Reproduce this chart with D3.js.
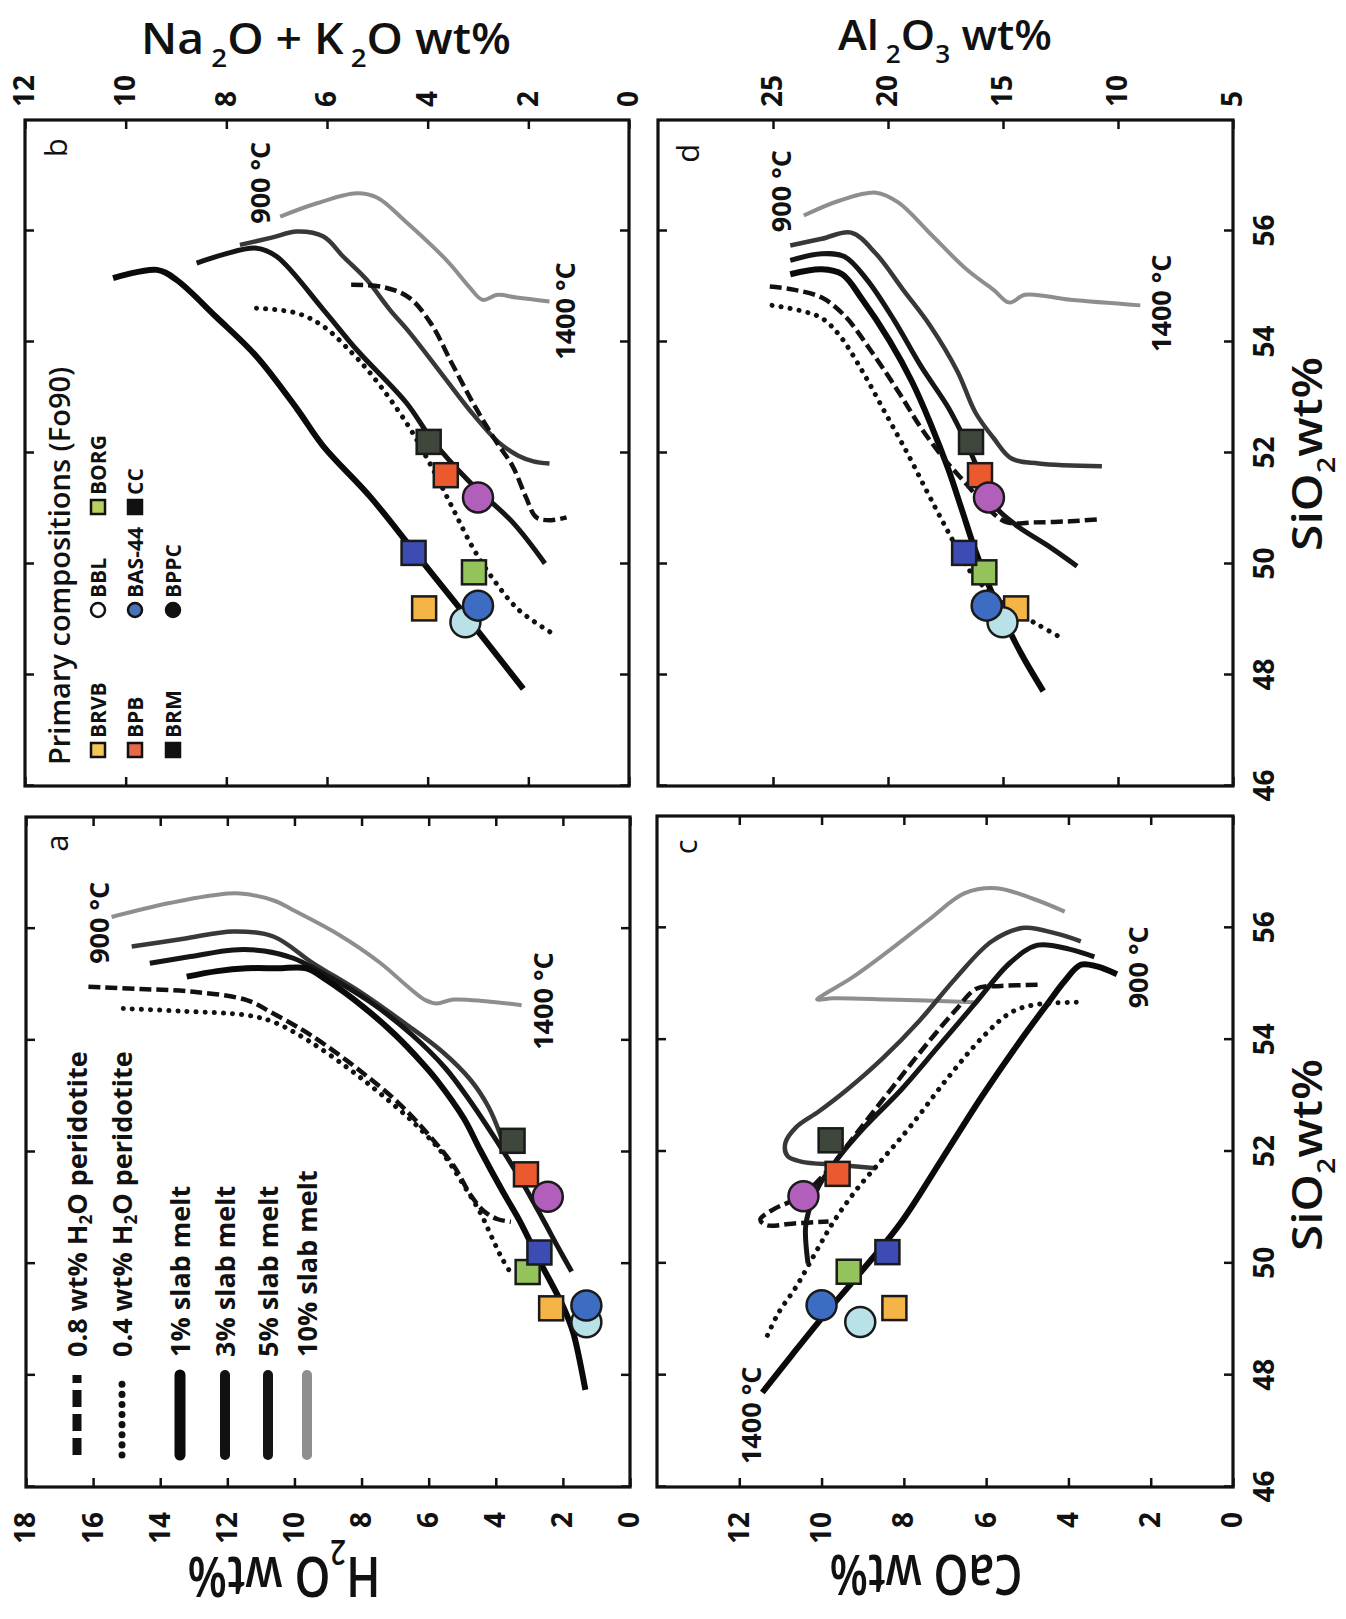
<!DOCTYPE html>
<html>
<head>
<meta charset="utf-8">
<script src="https://cdn.jsdelivr.net/npm/d3@7"></script>
<style>
  body { margin: 0; background: #fff; }
  text { font-family: "Open Sans", sans-serif; font-weight: 700; fill: #111; }
  .tick text { font-size: 28px; }
  .tick line { stroke: #111; stroke-width: 2.5; }
</style>
</head>
<body>
<svg id="fig"></svg>
<script>
// ---- tick values
const sioTicks = [46, 48, 50, 52, 54, 56];
const h2oTicks = [0, 2, 4, 6, 8, 10, 12, 14, 16, 18];
const alkTicks = [0, 2, 4, 6, 8, 10, 12];
const caoTicks = [0, 2, 4, 6, 8, 10, 12];
const alTicks  = [5, 10, 15, 20, 25];

// ---- primary compositions (Fo90)
const comps  = ["BRVB", "BBL", "BAS-44", "BORG", "BRM", "BPB", "CC", "BPPC"];
const shapes = ["square", "circle", "circle", "square", "square", "square", "square", "circle"];
const sio2   = [49.2, 48.95, 49.25, 49.85, 50.2, 51.6, 52.2, 51.2];
const h2o    = [2.35, 1.3, 1.3, 3.05, 2.7, 3.1, 3.5, 2.45];
const alk    = [4.07, 3.25, 3.0, 3.08, 4.28, 3.64, 3.98, 3.0];
const cao    = [8.23, 9.06, 10.0, 9.34, 8.4, 9.61, 9.78, 10.44];
const al2o3  = [14.43, 15.02, 15.71, 15.81, 16.69, 16.0, 16.39, 15.61];

// ---- model melt paths [SiO2, oxide]
// a: H2O
const a_dash = [[54.96,16.14],[54.92,14.6],[54.87,13.01],[54.72,11.42],[54.48,10.63],[54.2,9.8],[53.93,9.11],[53.41,7.95],[52.89,6.92],[52.32,6.02],[51.75,5.25],[51.22,4.74],[50.94,4.35],[50.8,3.96],[50.75,3.55]];
const a_dot  = [[54.57,15.1],[54.52,13.3],[54.45,11.42],[54.33,10.63],[54.0,9.6],[53.5,8.4],[53.05,7.45],[52.5,6.4],[51.95,5.55],[51.4,4.95],[50.9,4.45],[50.45,4.1],[50.1,3.82],[49.86,3.58]];
const a_s1   = [[55.14,13.21],[55.24,12.3],[55.29,11.42],[55.29,10.5],[55.29,9.64],[55.08,9.04],[54.6,7.95],[54.1,7.0],[53.6,6.2],[53.29,5.76],[52.6,4.95],[52.04,4.47],[51.3,3.8],[50.78,3.3],[50.03,2.68],[49.23,1.99],[48.76,1.69],[47.74,1.33]];
const a_s3   = [[55.38,14.31],[55.5,13.1],[55.62,11.82],[55.6,10.9],[55.47,10.03],[55.25,9.3],[54.69,7.75],[54.1,6.5],[53.5,5.5],[52.9,4.75],[52.27,4.05],[51.6,3.35],[50.8,2.6],[50.3,2.15],[49.86,1.74]];
const a_s5   = [[55.68,14.85],[55.82,13.3],[55.95,11.82],[55.86,10.63],[55.38,9.44],[54.85,8.0],[54.3,6.7],[53.8,5.6],[53.29,4.75],[52.81,4.22],[52.33,3.88],[52.0,3.72]];
const a_s10  = [[56.21,15.45],[56.45,13.8],[56.6,12.4],[56.63,11.62],[56.5,10.6],[56.33,10.03],[55.9,8.7],[55.39,7.45],[54.95,6.6],[54.72,6.1],[54.66,5.76],[54.73,5.27],[54.7,4.3],[54.63,3.23]];
// b: Na2O + K2O
const b_dash = [[55.03,5.52],[54.99,4.88],[54.8,4.37],[54.34,3.94],[53.6,3.51],[52.87,3.08],[52.22,2.65],[51.76,2.31],[51.21,2.05],[50.84,1.84],[50.79,1.54],[50.84,1.24]];
const b_dot  = [[54.61,7.4],[54.52,6.6],[54.28,6.07],[53.8,5.5],[53.37,5.08],[52.54,4.42],[51.8,3.95],[51.0,3.5],[50.29,3.1],[49.73,2.7],[49.18,2.2],[48.76,1.54]];
const b_s1   = [[55.15,10.25],[55.3,9.38],[55.12,8.99],[54.45,8.2],[53.74,7.4],[52.8,6.6],[52.13,6.08],[51.21,5.14],[50.24,4.28],[49.18,3.34],[47.75,2.1]];
const b_s3   = [[55.42,8.59],[55.58,8.05],[55.69,7.4],[55.54,7.0],[54.58,6.07],[53.86,5.41],[52.9,4.42],[52.22,3.9],[51.48,3.17],[50.75,2.31],[50.01,1.67]];
const b_s5   = [[55.75,7.73],[55.88,7.1],[55.99,6.6],[55.9,6.07],[55.54,5.68],[55.12,5.21],[54.58,4.75],[54.16,4.35],[53.4,3.7],[52.7,3.1],[52.2,2.6],[51.95,2.2],[51.85,1.9],[51.81,1.58]];
const b_s10  = [[56.26,6.93],[56.5,6.2],[56.68,5.41],[56.6,5.0],[56.18,4.45],[55.45,3.6],[54.99,3.17],[54.76,2.91],[54.85,2.61],[54.8,2.23],[54.73,1.58]];
// c: CaO
const c_dash = [[54.98,4.75],[54.96,5.64],[54.91,6.24],[54.53,6.74],[53.96,7.4],[53.34,8.07],[52.72,8.73],[52.2,9.28],[51.68,9.83],[51.2,10.5],[50.97,11.16],[50.78,11.49],[50.68,11.33],[50.71,10.72],[50.75,9.83]];
const c_dot  = [[54.67,3.81],[54.62,4.86],[54.48,5.41],[54.05,6.08],[53.29,6.96],[52.44,7.85],[51.87,8.51],[51.3,9.17],[50.73,9.72],[50.16,10.17],[49.59,10.61],[49.11,11.05],[48.69,11.33]];
const c_s1   = [[47.69,11.44],[48.36,10.72],[49.07,9.94],[49.83,9.06],[50.73,8.07],[51.87,7.07],[53.01,6.08],[53.96,5.19],[54.62,4.53],[55.05,4.09],[55.34,3.7],[55.31,3.31],[55.17,2.82]];
const c_s3   = [[55.48,3.37],[55.62,3.98],[55.69,4.75],[55.38,5.41],[54.62,6.3],[53.86,7.18],[53.1,8.07],[52.44,8.95],[51.87,9.61],[51.39,10.06],[51.01,10.28],[50.63,10.39],[50.0,10.33]];
const c_s5   = [[55.76,3.7],[55.9,4.31],[56.0,5.08],[55.76,5.86],[55.1,6.74],[54.34,7.62],[53.67,8.51],[53.1,9.39],[52.72,10.06],[52.44,10.61],[52.15,10.88],[51.92,10.83],[51.82,10.5],[51.76,9.61],[51.7,8.67]];
const c_s10  = [[56.29,4.09],[56.52,4.86],[56.71,5.75],[56.62,6.52],[56.14,7.4],[55.57,8.4],[55.1,9.28],[54.81,9.94],[54.72,10.11],[54.74,9.72],[54.72,8.4],[54.67,6.3]];
// d: Al2O3
const d_dash = [[55.0,25.14],[54.94,24.06],[54.8,22.88],[54.48,21.9],[53.83,20.72],[53.1,19.54],[52.45,18.56],[51.9,17.57],[51.44,16.59],[50.98,15.61],[50.75,14.82],[50.75,13.64],[50.77,12.07],[50.81,10.7]];
const d_dot  = [[54.66,25.04],[54.57,23.86],[54.43,22.88],[54.11,22.09],[53.47,21.11],[52.73,20.13],[51.99,19.15],[51.35,18.36],[50.88,17.77],[50.42,17.18],[49.96,16.59],[49.5,15.61],[49.13,14.43],[48.9,13.45],[48.67,12.47]];
const d_s1   = [[55.22,24.25],[55.31,22.88],[55.22,21.99],[54.76,21.11],[54.02,19.93],[53.28,18.95],[52.54,18.16],[51.71,17.38],[50.98,16.79],[50.24,16.2],[49.23,15.22],[48.4,14.23],[47.71,13.25]];
const d_s3   = [[55.47,24.25],[55.59,22.88],[55.54,21.9],[55.12,20.91],[54.39,19.73],[53.56,18.56],[52.82,17.38],[52.18,16.59],[51.62,16.0],[51.07,15.41],[50.7,14.43],[50.33,13.05],[49.96,11.78]];
const d_s5   = [[55.74,24.25],[55.86,22.88],[55.97,21.6],[55.59,20.52],[54.94,19.34],[54.29,18.16],[53.47,16.98],[52.73,16.2],[52.27,15.41],[51.9,14.63],[51.81,13.45],[51.76,10.7]];
const d_s10  = [[56.28,23.66],[56.55,22.09],[56.69,20.52],[56.51,19.54],[55.95,18.16],[55.31,16.59],[54.94,15.41],[54.71,14.72],[54.85,14.04],[54.76,12.07],[54.66,9.03]];

// temperature notes [text, SiO2, oxide]
const a_notes = [["900 °C", 55.37, 15.53], ["1400 °C", 53.83, 2.3]];
const b_notes = [["900 °C", 56.13, 7.13], ["1400 °C", 53.68, 1.07]];
const c_notes = [["900 °C", 54.56, 2.07], ["1400 °C", 46.41, 11.47]];
const d_notes = [["900 °C", 55.98, 24.22], ["1400 °C", 53.82, 7.7]];

const legendNames = ["0.8 wt% H2O peridotite", "0.4 wt% H2O peridotite", "1% slab melt", "3% slab melt", "5% slab melt", "10% slab melt"];

// ---- styles
const fills = {"BRVB": "#f5b446", "BBL": "#b8e2e8", "BAS-44": "#3d6dc2", "BORG": "#93c35a",
               "BRM": "#3c4cb2", "BPB": "#eb5a2e", "CC": "#3f473c", "BPPC": "#b25fbc"};
const legFills = {"BRVB": "#f3c65a", "BBL": "#fff", "BAS-44": "#4a72b8", "BORG": "#b8d05c",
                  "BRM": "#111", "BPB": "#e8694a", "CC": "#111", "BPPC": "#111"};
// order: 10%, 5%, 3%, 1%, dashed, dotted
const lineStyles = [
  {stroke: "#8e8e8e", width: 4},
  {stroke: "#383838", width: 4.5},
  {stroke: "#151515", width: 5},
  {stroke: "#0a0a0a", width: 6},
  {stroke: "#111", width: 4.5, dash: "12,5"},
  {stroke: "#111", width: 5, dash: "0.1,9", cap: "round"}
];

// ---- figure: drawn upright, then turned 90° counter-clockwise like the scan
const svg = d3.select("#fig").attr("width", 1346).attr("height", 1619);
svg.append("rect").attr("width", 1346).attr("height", 1619).attr("fill", "#fff");
const fig = svg.append("g").attr("transform", "translate(0,1619) rotate(-90)");

const panels = [
  {id: "a", xr: [132, 802], yr: [26, 630], dom: [0, 18], ticks: h2oTicks, side: "left", sioLabels: false,
   curves: [a_s10, a_s5, a_s3, a_s1, a_dash, a_dot], vals: h2o, notes: a_notes, letter: [57.53, 17.1]},
  {id: "b", xr: [833, 1499], yr: [25, 629], dom: [0, 12], ticks: alkTicks, side: "right", sioLabels: false,
   curves: [b_s10, b_s5, b_s3, b_s1, b_dash, b_dot], vals: alk, notes: b_notes, letter: [57.5, 11.4]},
  {id: "c", xr: [132, 803], yr: [657, 1233], dom: [0, 14], ticks: caoTicks, side: "left", sioLabels: true,
   curves: [c_s10, c_s5, c_s3, c_s1, c_dash, c_dot], vals: cao, notes: c_notes, letter: [57.45, 13.32]},
  {id: "d", xr: [833, 1499], yr: [658, 1233], dom: [5, 30], ticks: alTicks, side: "right", sioLabels: true,
   curves: [d_s10, d_s5, d_s3, d_s1, d_dash, d_dot], vals: al2o3, notes: d_notes, letter: [57.4, 28.74]}
];

panels.forEach(p => {
  const x = d3.scaleLinear().domain([46, 58]).range(p.xr);
  const y = d3.scaleLinear().domain(p.dom).range([p.yr[1], p.yr[0]]);
  const g = fig.append("g");

  // inward ticks on all four sides
  g.append("g").attr("transform", `translate(0,${p.yr[1]})`)
    .call(d3.axisBottom(x).tickValues(sioTicks).tickSize(-9).tickPadding(21)
      .tickFormat(p.sioLabels ? d3.format("d") : ""));
  g.append("g").attr("transform", `translate(0,${p.yr[0]})`)
    .call(d3.axisTop(x).tickValues(sioTicks).tickSize(-9).tickFormat(""));
  g.append("g").attr("transform", `translate(${p.xr[0]},0)`)
    .call(d3.axisLeft(y).tickValues(p.ticks).tickSize(-9).tickPadding(25)
      .tickFormat(p.side === "left" ? d3.format("d") : ""));
  g.append("g").attr("transform", `translate(${p.xr[1]},0)`)
    .call(d3.axisRight(y).tickValues(p.ticks).tickSize(-9).tickPadding(13)
      .tickFormat(p.side === "right" ? d3.format("d") : ""));
  g.selectAll(".domain").remove();

  // frame
  g.append("rect")
    .attr("x", p.xr[0]).attr("y", p.yr[0])
    .attr("width", p.xr[1] - p.xr[0]).attr("height", p.yr[1] - p.yr[0])
    .attr("fill", "none").attr("stroke", "#111").attr("stroke-width", 3.2);

  // melt paths
  const line = d3.line().x(d => x(d[0])).y(d => y(d[1])).curve(d3.curveCatmullRom.alpha(0.5));
  p.curves.forEach((c, i) => {
    const st = lineStyles[i];
    g.append("path").datum(c)
      .attr("d", line)
      .attr("fill", "none")
      .attr("stroke", st.stroke)
      .attr("stroke-width", st.width)
      .attr("stroke-dasharray", st.dash || null)
      .attr("stroke-linecap", st.cap || "butt")
      .attr("stroke-linejoin", "round");
  });

  // primary compositions
  comps.forEach((name, i) => {
    const cx = x(sio2[i]), cy = y(p.vals[i]);
    if (shapes[i] === "square") {
      g.append("rect").attr("x", cx - 12).attr("y", cy - 12).attr("width", 24).attr("height", 24)
        .attr("fill", fills[name]).attr("stroke", "#1a1a1a").attr("stroke-width", 2.5);
    } else {
      g.append("circle").attr("cx", cx).attr("cy", cy).attr("r", 15)
        .attr("fill", fills[name]).attr("stroke", "#1a1a1a").attr("stroke-width", 2.5);
    }
  });

  // temperature notes and panel letter
  p.notes.forEach(n => {
    g.append("text").attr("x", x(n[1])).attr("y", y(n[2])).style("font-size", "27px").text(n[0]);
  });
  g.append("text").attr("x", x(p.letter[0])).attr("y", y(p.letter[1]))
    .attr("text-anchor", "middle").attr("dominant-baseline", "central")
    .style("font-size", "31px").style("font-weight", 400).text(p.id);
});

// ---- axis titles
function addTitle(parts, X, Y, rot, size, len) {
  const t = fig.append("text")
    .attr("transform", `translate(${X},${Y}) rotate(${rot})`)
    .attr("text-anchor", "middle")
    .attr("textLength", len).attr("lengthAdjust", "spacingAndGlyphs")
    .style("font-size", size + "px").style("font-weight", 600);
  let down = false;
  parts.forEach(pt => {
    const s = t.append("tspan").text(pt[0]);
    if (pt[1]) { s.style("font-size", (size * 0.6) + "px"); if (!down) { s.attr("dy", size * 0.3); down = true; } }
    else if (down) { s.attr("dy", -size * 0.3); down = false; }
  });
}
addTitle([["H", 0], ["2", 1], ["O wt%", 0]], 62, 284, -90, 56, 193);
addTitle([["CaO wt%", 0]], 64, 926, -90, 56, 193);
addTitle([["Na", 0], [" 2", 1], ["O + K", 0], [" 2", 1], ["O wt%", 0]], 1565, 326, 90, 43, 370);
addTitle([["Al", 0], [" 2", 1], ["O", 0], ["3", 1], [" wt%", 0]], 1569, 945, 90, 42, 214);
addTitle([["SiO", 0], ["2", 1], ["wt%", 0]], 464, 1322, 0, 42, 192);
addTitle([["SiO", 0], ["2", 1], ["wt%", 0]], 1165, 1322, 0, 42, 194);

// ---- legend, panel a (line styles)
const legA = fig.append("g");
const legRowsA = [77, 122, 180, 225, 268, 307];
const legLineA = [
  {stroke: "#111", width: 9, dash: "17,7"},
  {stroke: "#111", width: 7, dash: "0.1,10", cap: "round"},
  {stroke: "#0a0a0a", width: 11, cap: "round"},
  {stroke: "#111", width: 10, cap: "round"},
  {stroke: "#151515", width: 10, cap: "round"},
  {stroke: "#8e8e8e", width: 10, cap: "round"}
];
legendNames.forEach((name, i) => {
  const st = legLineA[i];
  legA.append("line").attr("x1", 164).attr("x2", 244).attr("y1", legRowsA[i]).attr("y2", legRowsA[i])
    .attr("stroke", st.stroke).attr("stroke-width", st.width)
    .attr("stroke-dasharray", st.dash || null).attr("stroke-linecap", st.cap || "butt");
  const t = legA.append("text").attr("x", 262).attr("y", legRowsA[i]).attr("dy", "0.36em").style("font-size", "27px");
  const m = name.match(/^(.*H)2(O.*)$/);
  if (m) {
    t.append("tspan").text(m[1]);
    t.append("tspan").text("2").style("font-size", "17px").attr("dy", 5);
    t.append("tspan").text(m[2]).attr("dy", -5);
  } else {
    t.text(name);
  }
});

// ---- legend, panel b (compositions)
const legB = fig.append("g");
legB.append("text").attr("x", 854).attr("y", 70).style("font-size", "29px").style("font-weight", 600)
  .text("Primary compositions (Fo90)");
const legRowsB = [98, 135, 173];
const legColsB = [869, 1009, 1112];
const legGrid = [["BRVB", 0, 0], ["BBL", 0, 1], ["BORG", 0, 2], ["BPB", 1, 0], ["BAS-44", 1, 1], ["CC", 1, 2], ["BRM", 2, 0], ["BPPC", 2, 1]];
legGrid.forEach(e => {
  const name = e[0], cx = legColsB[e[2]], cy = legRowsB[e[1]];
  const i = comps.indexOf(name);
  if (shapes[i] === "square") {
    legB.append("rect").attr("x", cx - 7).attr("y", cy - 7).attr("width", 14).attr("height", 14)
      .attr("fill", legFills[name]).attr("stroke", "#111").attr("stroke-width", 2.5);
  } else {
    legB.append("circle").attr("cx", cx).attr("cy", cy).attr("r", 7)
      .attr("fill", legFills[name]).attr("stroke", "#111").attr("stroke-width", 2.5);
  }
  legB.append("text").attr("x", cx + 12).attr("y", cy).attr("dy", "0.36em")
    .style("font-size", "21px").text(name);
});
</script>
</body>
</html>
